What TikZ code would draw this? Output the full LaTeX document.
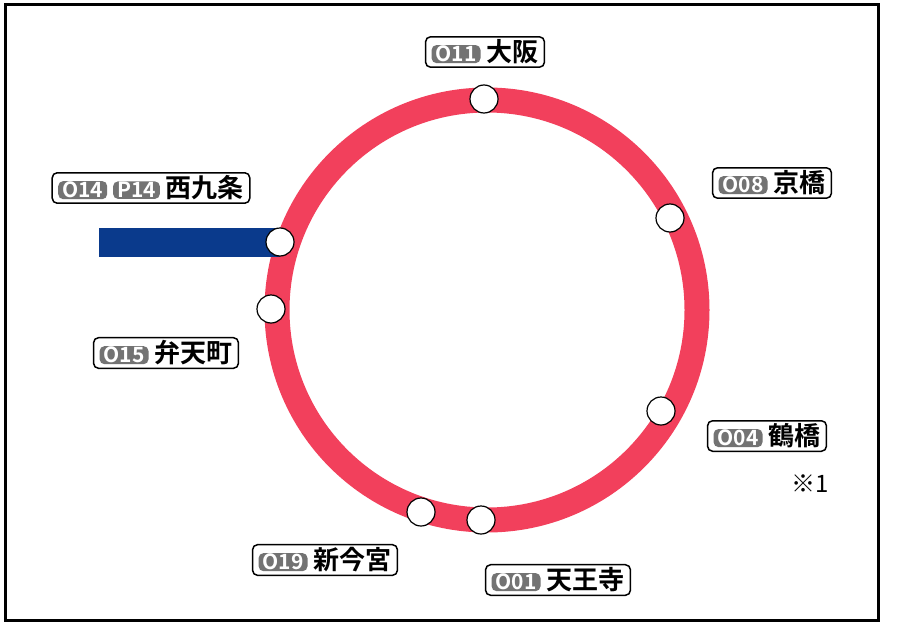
\documentclass[tikz,border=0pt]{standalone}
\usepackage{fontspec}
\setmainfont{Noto Sans}
\newfontfamily\jpfont{Noto Sans CJK JP}[BoldFont={* Bold}]
\newfontfamily\refmark{Noto Sans CJK JP}
\definecolor{loopred}{HTML}{F2405C}
\definecolor{lineblue}{HTML}{0A3A8C}
\newcommand{\code}[1]{\tikz[baseline=(c.base)]\node[fill=black!55,text=white,inner xsep=4pt,inner ysep=1pt,font=\fontsize{21}{21}\selectfont] (c) {#1};}
\begin{document}
\begin{tikzpicture}[x=1pt,y=-1pt,
        stop/.style={shape=circle, draw=black, fill=white, line width=1.2pt, minimum size=28pt, inner sep=0pt},
        namebox/.style={draw=black, fill=white, rounded corners=5pt, line width=1.5pt, inner xsep=6pt, inner ysep=3pt,
            font=\jpfont\bfseries\fontsize{26}{26}\selectfont}
    ]
        \useasboundingbox (0,0) rectangle (920,626);
        \draw [line width=3pt] (5,5) rectangle (878,620);

        % loop line
        \draw [color=loopred, line width=25pt] (487,310) circle [radius=210];
        \fill [color=lineblue] (99,228) rectangle (280,257);

        \foreach \n/\x/\y in
            {osaka/484/99, kyobashi/670/218, nishikujo/280/242, bentencho/271/309,
             tsuruhashi/661/411, shinimamiya/421/512, tennoji/481/520}
            \node [stop] (\n) at (\x,\y) {};

        \node [namebox] (osakalbl) at (485,52) {\code{O11}\ 大阪};
        \node [namebox] (kyobashilbl) at (772,183) {\code{O08}\ 京橋};
        \node [namebox] (nishikujolbl) at (151,188) {\code{O14}\ \code{P14}\ 西九条};
        \node [namebox] (bentencholbl) at (166,353) {\code{O15}\ 弁天町};
        \node [namebox] (tsuruhashilbl) at (767,436) {\code{O04}\ 鶴橋};
        \node [namebox] (shinimamiyalbl) at (325,560) {\code{O19}\ 新今宮};
        \node [namebox] (tennojilbl) at (558,580) {\code{O01}\ 天王寺};
        \node [font=\refmark\fontsize{24}{24}\selectfont] (note) at (810,484) {※1};
    \end{tikzpicture}
\end{document}
